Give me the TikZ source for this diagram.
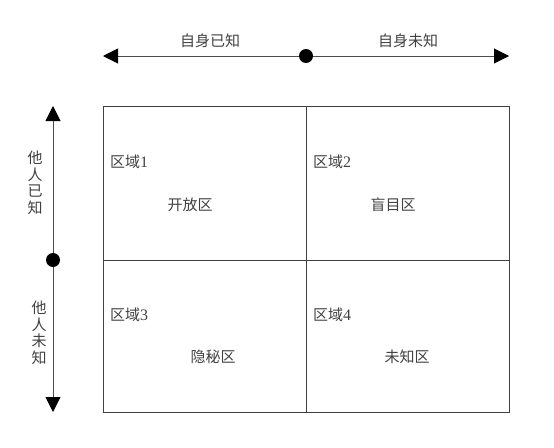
\documentclass[tikz,border=0pt]{standalone}
\usepackage{fontspec}
\setmainfont{Liberation Serif}
\newfontfamily\cjk{Noto Sans CJK SC}
\usepackage{tikz}
\usetikzlibrary{arrows.meta}

\tikzset{
  axis/.style={draw=black!70, line width=1pt, {Triangle[length=15pt,width=15pt,color=black]}-{Triangle[length=15pt,width=15pt,color=black]}},
  cell/.style={draw=black!75, line width=1pt},
  tag/.style={font=\fontsize{15}{17}\selectfont\cjk, text=black!75, inner sep=0pt},
  zone/.style={font=\fontsize{15}{17}\selectfont\cjk, text=black!75, inner sep=0pt, anchor=west},
  side/.style={font=\fontsize{15}{16.5}\selectfont\cjk, text=black!75, inner sep=0pt, align=center}
}

\begin{document}
\begin{tikzpicture}[x=1pt,y=-1pt]
      \useasboundingbox (0,0) rectangle (554,447);
      % top axis
      \coordinate (tl) at (103,56);
      \coordinate (tr) at (509,56);
      \coordinate (tm) at (306,56);
      \draw[axis] (tl) -- (tr);
      \fill (tm) circle (7);
      \node[tag] (selfknown) at (210,41) {自身已知};
      \node[tag] (selfunknown) at (408,41) {自身未知};
      % left axis
      \coordinate (lt) at (53,106);
      \coordinate (lb) at (53,412);
      \coordinate (lm) at (53,260);
      \draw[axis] (lt) -- (lb);
      \fill (lm) circle (7);
      \node[side] (othersknown) at (35,183) {他\\人\\已\\知};
      \node[side] (othersunknown) at (39,333) {他\\人\\未\\知};
      % grid
      \foreach \i in {0,1} {
        \foreach \j in {0,1} {
          \draw[cell] (103+203*\i,106+154*\j) rectangle (306+203*\i,260+152*\j);
        }
      }
      \node[zone] (z1) at (110,162) {区域{\rmfamily\fontsize{16}{17}\selectfont 1}};
      \node[zone] (z2) at (313,162) {区域{\rmfamily\fontsize{16}{17}\selectfont 2}};
      \node[zone] (z3) at (110,315) {区域{\rmfamily\fontsize{16}{17}\selectfont 3}};
      \node[zone] (z4) at (313,315) {区域{\rmfamily\fontsize{16}{17}\selectfont 4}};
      \node[tag] (open) at (190,205) {开放区};
      \node[tag] (blind) at (393,205) {盲目区};
      \node[tag] (hidden) at (213,357) {隐秘区};
      \node[tag] (unknown) at (407,357) {未知区};
\end{tikzpicture}
\end{document}
